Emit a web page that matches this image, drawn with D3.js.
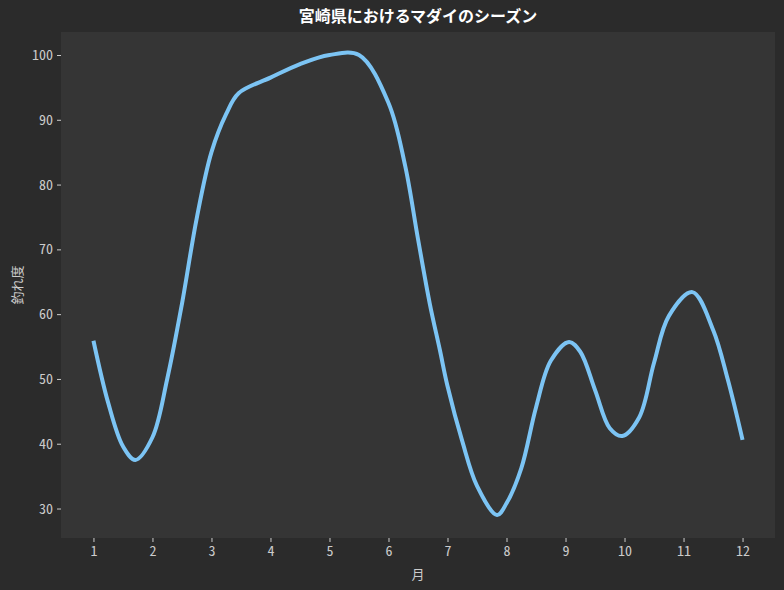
<!DOCTYPE html>
<html>
<head>
<meta charset="utf-8">
<script src="https://cdn.jsdelivr.net/npm/d3@7"></script>
<style>
  html, body { margin: 0; padding: 0; background: #2b2b2b; }
  svg { display: block; }
  text { font-family: "Noto Sans CJK JP", "Noto Sans", sans-serif; }
</style>
</head>
<body>
<svg id="chart" width="784" height="590"></svg>
<script>
// Season curve: month position and catch score (釣れ度)
const months = [1.0, 1.25, 1.5, 1.71, 2.0, 2.25, 2.5, 2.75, 3.0, 3.25, 3.46, 4.0, 4.5, 5.0, 5.5,
                6.0, 6.28, 6.5, 6.7, 6.87, 7.0, 7.25, 7.5, 7.84, 8.0, 8.25, 8.5, 8.75, 9.06, 9.25,
                9.5, 9.75, 9.96, 10.25, 10.5, 10.75, 11.15, 11.5, 11.75, 12.0];
const scores = [55.9, 46.3, 39.6, 37.5, 41.0, 50.0, 61.6, 74.8, 85.0, 90.9, 94.1, 96.5, 98.6, 100, 100,
                92.6, 83.0, 71.6, 61.6, 54.5, 48.9, 40.4, 33.5, 29.0, 30.8, 36.2, 45.6, 52.8, 55.7, 54.2,
                48.3, 42.4, 41.2, 44.1, 52.5, 59.7, 63.4, 57.6, 49.9, 40.6];
const xTicks = [1, 2, 3, 4, 5, 6, 7, 8, 9, 10, 11, 12];
const yTicks = [30, 40, 50, 60, 70, 80, 90, 100];

const title = "宮崎県におけるマダイのシーズン";
const xLabel = "月";
const yLabel = "釣れ度";

const W = 784, H = 590;
const margin = { top: 32, right: 9, bottom: 52, left: 61 };
const iw = W - margin.left - margin.right;
const ih = H - margin.top - margin.bottom;

const svg = d3.select("#chart");
svg.append("rect").attr("width", W).attr("height", H).attr("fill", "#2b2b2b");

const g = svg.append("g").attr("transform", `translate(${margin.left},${margin.top})`);
g.append("rect").attr("width", iw).attr("height", ih).attr("fill", "#353535");

// 5% padding around the data range on both axes
const xMin = 1, xMax = 12, xPad = (xMax - xMin) * 0.05;
const yMin = d3.min(scores), yMax = d3.max(scores), yPad = (yMax - yMin) * 0.05;
const x = d3.scaleLinear().domain([xMin - xPad, xMax + xPad]).range([0, iw]);
const y = d3.scaleLinear().domain([yMin - yPad, yMax + yPad]).range([ih, 0]);

const tickColor = "#cccccc";
const tickFont = "'Noto Sans Mono CJK JP', 'Liberation Sans Narrow', 'Noto Sans CJK JP', sans-serif";

const xAxis = g.append("g")
  .attr("transform", `translate(0,${ih})`)
  .call(d3.axisBottom(x).tickValues(xTicks).tickSize(4).tickPadding(4).tickFormat(d3.format("d")));
const yAxis = g.append("g")
  .call(d3.axisLeft(y).tickValues(yTicks).tickSize(4).tickPadding(4).tickFormat(d3.format("d")));

[xAxis, yAxis].forEach(a => {
  a.select(".domain").remove();
  a.selectAll(".tick line").attr("stroke", tickColor).attr("stroke-width", 1);
  a.selectAll(".tick text")
    .attr("fill", tickColor)
    .style("font-family", tickFont)
    .style("font-size", "14px");
});

const pts = months.map((m, i) => [m, scores[i]]);
const line = d3.line()
  .x(d => x(d[0]))
  .y(d => y(d[1]))
  .curve(d3.curveCatmullRom.alpha(0.5));

g.append("path")
  .datum(pts)
  .attr("d", line)
  .attr("fill", "none")
  .attr("stroke", "#7cc4f4")
  .attr("stroke-width", 4)
  .attr("stroke-linejoin", "round");

svg.append("text")
  .attr("x", margin.left + iw / 2)
  .attr("y", 22)
  .attr("text-anchor", "middle")
  .attr("fill", "#ffffff")
  .style("font-size", "16px")
  .style("font-weight", "bold")
  .text(title);

svg.append("text")
  .attr("x", margin.left + iw / 2)
  .attr("y", 579)
  .attr("text-anchor", "middle")
  .attr("fill", tickColor)
  .style("font-size", "13px")
  .text(xLabel);

svg.append("text")
  .attr("transform", `translate(22,${margin.top + ih / 2}) rotate(-90)`)
  .attr("text-anchor", "middle")
  .attr("fill", tickColor)
  .style("font-size", "13px")
  .text(yLabel);
</script>
</body>
</html>
